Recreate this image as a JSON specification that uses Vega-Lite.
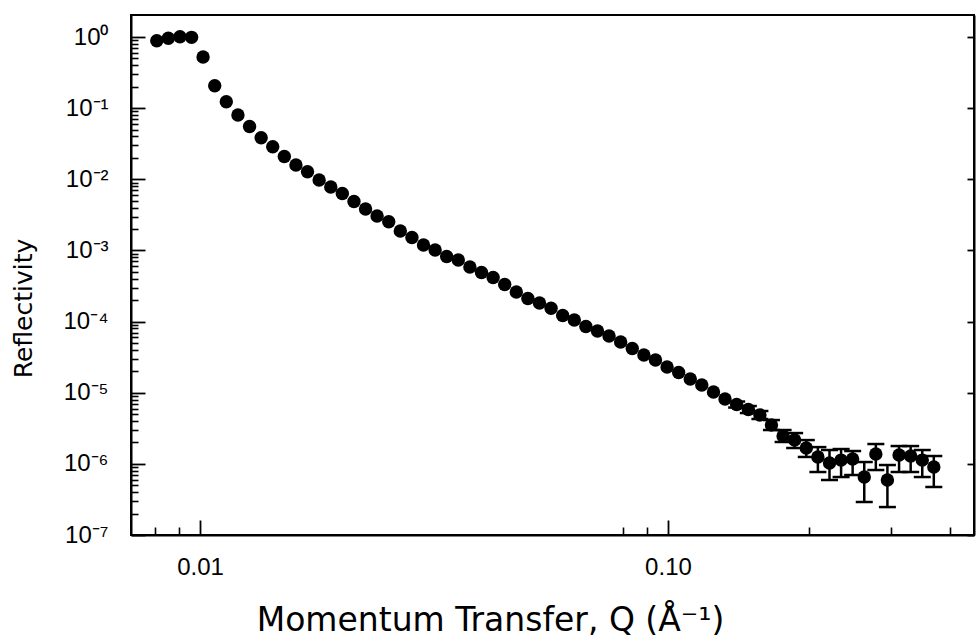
{
  "$schema": "https://vega.github.io/schema/vega-lite/v6.json",
  "width": 843,
  "height": 520,
  "autosize": "none",
  "padding": {"left": 131, "top": 15, "right": 6, "bottom": 102},
  "background": "white",
  "config": {
    "view": {"stroke": "black", "strokeWidth": 2},
    "axis": {"grid": false, "domainColor": "black", "domainWidth": 2, "tickColor": "black", "tickOpacity": 1, "tickWidth": 1.8, "gridColor": "black", "gridOpacity": 1, "gridWidth": 1.8, "labelColor": "black", "titleColor": "black", "labelFont": "Liberation Sans", "titleFont": "DejaVu Sans", "titleFontWeight": "normal"}
  },
  "datasets": {
    "refl": [
      {"q": 0.008083, "r": 0.887},
      {"q": 0.008556, "r": 0.959},
      {"q": 0.009060, "r": 1.01},
      {"q": 0.009592, "r": 0.99},
      {"q": 0.01015, "r": 0.523},
      {"q": 0.01075, "r": 0.2067},
      {"q": 0.01138, "r": 0.1232},
      {"q": 0.01205, "r": 0.0801},
      {"q": 0.01276, "r": 0.0552},
      {"q": 0.01351, "r": 0.0384},
      {"q": 0.01430, "r": 0.0287},
      {"q": 0.01514, "r": 0.0209},
      {"q": 0.01603, "r": 0.01588},
      {"q": 0.01697, "r": 0.01278},
      {"q": 0.01797, "r": 0.00977},
      {"q": 0.01903, "r": 0.00779},
      {"q": 0.02014, "r": 0.00631},
      {"q": 0.02133, "r": 0.00487},
      {"q": 0.02258, "r": 0.00382},
      {"q": 0.02390, "r": 0.00305},
      {"q": 0.02531, "r": 0.002533},
      {"q": 0.02679, "r": 0.001875},
      {"q": 0.02837, "r": 0.001519},
      {"q": 0.03003, "r": 0.001192},
      {"q": 0.03180, "r": 0.001014},
      {"q": 0.03366, "r": 0.000821},
      {"q": 0.03564, "r": 0.000733},
      {"q": 0.03773, "r": 0.000585},
      {"q": 0.03995, "r": 0.000489},
      {"q": 0.04230, "r": 0.000416},
      {"q": 0.04478, "r": 0.000332},
      {"q": 0.04741, "r": 0.00026},
      {"q": 0.05019, "r": 0.000211},
      {"q": 0.05314, "r": 0.0001823},
      {"q": 0.05626, "r": 0.0001536},
      {"q": 0.05957, "r": 0.0001217},
      {"q": 0.06307, "r": 0.0001051},
      {"q": 0.06677, "r": 0.0000852},
      {"q": 0.07070, "r": 0.0000737},
      {"q": 0.07483, "r": 0.0000627},
      {"q": 0.07923, "r": 0.0000516},
      {"q": 0.08389, "r": 0.0000418},
      {"q": 0.08882, "r": 0.0000339},
      {"q": 0.09404, "r": 0.0000288},
      {"q": 0.09956, "r": 0.0000230},
      {"q": 0.1054, "r": 0.00001922},
      {"q": 0.1116, "r": 0.00001558},
      {"q": 0.1181, "r": 0.00001283},
      {"q": 0.1251, "r": 0.00001023},
      {"q": 0.1324, "r": 0.00000815},
      {"q": 0.1402, "r": 0.00000682, "lo": 0.00000619, "hi": 0.00000752},
      {"q": 0.1485, "r": 0.0000058, "lo": 0.00000518, "hi": 0.0000065},
      {"q": 0.1572, "r": 0.00000486, "lo": 0.00000427, "hi": 0.00000553},
      {"q": 0.1664, "r": 0.00000352, "lo": 0.00000299, "hi": 0.00000413},
      {"q": 0.1762, "r": 0.00000246, "lo": 0.00000203, "hi": 0.00000299},
      {"q": 0.1865, "r": 0.00000216, "lo": 0.00000167, "hi": 0.00000271},
      {"q": 0.1975, "r": 0.00000167, "lo": 0.00000125, "hi": 0.00000216},
      {"q": 0.2091, "r": 0.000001248, "lo": 0.000000768, "hi": 0.00000172},
      {"q": 0.2214, "r": 0.000001027, "lo": 0.000000593, "hi": 0.000001565},
      {"q": 0.2344, "r": 0.00000113, "lo": 0.000000653, "hi": 0.000001616},
      {"q": 0.2481, "r": 0.00000117, "lo": 0.000000697, "hi": 0.000001515},
      {"q": 0.2627, "r": 0.000000653, "lo": 0.000000291, "hi": 0.000001061},
      {"q": 0.2781, "r": 0.000001375, "lo": 0.000000819, "hi": 0.0000019},
      {"q": 0.2944, "r": 0.000000593, "lo": 0.000000247, "hi": 0.000000963},
      {"q": 0.3118, "r": 0.000001331, "lo": 0.000000768, "hi": 0.00000178},
      {"q": 0.3301, "r": 0.00000129, "lo": 0.000000768, "hi": 0.00000178},
      {"q": 0.3495, "r": 0.00000113, "lo": 0.000000653, "hi": 0.000001565},
      {"q": 0.3699, "r": 0.000000905, "lo": 0.000000473, "hi": 0.000001289}
    ]
  },
  "data": {"name": "refl"},
  "encoding": {
    "x": {
      "field": "q",
      "type": "quantitative",
      "scale": {"type": "log", "domain": [0.00712, 0.4508], "nice": false},
      "axis": null
    }
  },
  "layer": [
    {
      "mark": {"type": "point", "opacity": 0},
      "encoding": {
        "y": {
          "field": "r",
          "type": "quantitative",
          "scale": {"type": "log", "domain": [1e-7, 2.04], "nice": false},
          "axis": {
            "orient": "right",
            "title": null,
            "values": [1e-7, 1e-6, 1e-5, 1e-4, 0.001, 0.01, 0.1, 1],
            "labels": false,
            "tickSize": -7
          }
        }
      }
    },
    {
      "mark": {"type": "point", "opacity": 0},
      "encoding": {
        "y": {
          "field": "r",
          "type": "quantitative",
          "scale": {"type": "log", "domain": [1e-7, 2.04], "nice": false},
          "axis": {
            "orient": "right",
            "title": null,
            "values": [1e-7, 1e-6, 1e-5, 1e-4, 0.001, 0.01, 0.1, 1],
            "labels": false,
            "ticks": false,
            "domain": false,
            "grid": true,
            "gridColor": "black",
            "gridOpacity": 1,
            "gridWidth": 1.8,
            "gridDash": [14, 829],
            "gridDashOffset": 14
          }
        }
      }
    },
    {
      "mark": {"type": "point", "opacity": 0},
      "encoding": {
        "y": {
          "field": "r",
          "type": "quantitative",
          "scale": {"type": "log", "domain": [1e-7, 2.04], "nice": false},
          "axis": {
            "orient": "right",
            "title": null,
            "values": [2e-7, 3e-7, 4e-7, 5e-7, 6e-7, 7e-7, 8e-7, 9e-7, 2e-6, 3e-6, 4e-6, 5e-6, 6e-6, 7e-6, 8e-6, 9e-6, 2e-5, 3e-5, 4e-5, 5e-5, 6e-5, 7e-5, 8e-5, 9e-5, 2e-4, 3e-4, 4e-4, 5e-4, 6e-4, 7e-4, 8e-4, 9e-4, 0.002, 0.003, 0.004, 0.005, 0.006, 0.007, 0.008, 0.009, 0.02, 0.03, 0.04, 0.05, 0.06, 0.07, 0.08, 0.09, 0.2, 0.3, 0.4, 0.5, 0.6, 0.7, 0.8, 0.9],
            "labels": false,
            "ticks": false,
            "domain": false,
            "grid": true,
            "gridColor": "black",
            "gridOpacity": 1,
            "gridWidth": 1.6,
            "gridDash": [7, 836],
            "gridDashOffset": 7
          }
        }
      }
    },
    {
      "mark": {"type": "point", "opacity": 0},
      "encoding": {
        "y": {
          "field": "r",
          "type": "quantitative",
          "scale": {"type": "log", "domain": [1e-7, 2.04], "nice": false},
          "axis": {
            "orient": "left",
            "title": "Reflectivity",
            "values": [1e-7, 1e-6, 1e-5, 1e-4, 0.001, 0.01, 0.1, 1],
            "labelExpr": "'10' + ['⁰','⁻¹','⁻²','⁻³','⁻⁴','⁻⁵','⁻⁶','⁻⁷'][-round(log(datum.value)/LN10)]",
            "ticks": false,
            "labelPadding": 23,
            "labelFontSize": 24,
            "labelFlush": false,
            "labelOverlap": false,
            "labelBaseline": "middle",
            "titleFontSize": 25,
            "titleAngle": -90,
            "titleX": -108,
            "titleY": 293,
            "titleAlign": "center",
            "titleBaseline": "middle",
            "titleAnchor": null
          }
        }
      }
    },
    {
      "mark": {"type": "point", "opacity": 0},
      "encoding": {
        "x": {
          "field": "q",
          "type": "quantitative",
          "scale": {"type": "log", "domain": [0.00712, 0.4508], "nice": false},
          "axis": {
            "orient": "top",
            "title": null,
            "values": [0.01, 0.1],
            "labels": false,
            "ticks": false,
            "domain": false,
            "grid": true,
            "gridColor": "black",
            "gridOpacity": 1,
            "gridWidth": 1.8,
            "gridDash": [15, 505]
          }
        },
        "y": {"field": "r", "type": "quantitative", "scale": {"type": "log", "domain": [1e-7, 2.04], "nice": false}, "axis": null}
      }
    },
    {
      "mark": {"type": "point", "opacity": 0},
      "encoding": {
        "x": {
          "field": "q",
          "type": "quantitative",
          "scale": {"type": "log", "domain": [0.00712, 0.4508], "nice": false},
          "axis": {
            "orient": "top",
            "title": null,
            "values": [0.008, 0.009, 0.08, 0.09, 0.2, 0.3, 0.4],
            "labels": false,
            "ticks": false,
            "domain": false,
            "grid": true,
            "gridColor": "black",
            "gridOpacity": 1,
            "gridWidth": 1.6,
            "gridDash": [8, 512]
          }
        },
        "y": {"field": "r", "type": "quantitative", "scale": {"type": "log", "domain": [1e-7, 2.04], "nice": false}, "axis": null}
      }
    },
    {
      "mark": {"type": "point", "opacity": 0},
      "encoding": {
        "x": {
          "field": "q",
          "type": "quantitative",
          "scale": {"type": "log", "domain": [0.00712, 0.4508], "nice": false},
          "axis": {
            "orient": "bottom",
            "title": "Momentum Transfer, Q (Å⁻¹)",
            "values": [0.01, 0.1],
            "labelExpr": "datum.value < 0.05 ? '0.01' : '0.10'",
            "ticks": false,
            "labelPadding": 20,
            "labelFontSize": 24,
            "labelFlush": false,
            "labelOverlap": false,
            "titleFontSize": 33,
            "titleX": 359,
            "titleY": 95,
            "titleAlign": "center",
            "titleBaseline": "alphabetic",
            "titleAnchor": null
          }
        },
        "y": {"field": "r", "type": "quantitative", "scale": {"type": "log", "domain": [1e-7, 2.04], "nice": false}, "axis": null}
      }
    },
    {
      "transform": [{"filter": "isValid(datum.lo)"}],
      "mark": {"type": "rule", "color": "black", "strokeWidth": 2.5},
      "encoding": {
        "y": {"field": "lo", "type": "quantitative", "scale": {"type": "log", "domain": [1e-7, 2.04], "nice": false}, "axis": null},
        "y2": {"field": "hi"}
      }
    },
    {
      "transform": [{"filter": "isValid(datum.lo)"}],
      "mark": {"type": "tick", "orient": "horizontal", "color": "black", "size": 17, "thickness": 2.5, "opacity": 1},
      "encoding": {
        "y": {"field": "lo", "type": "quantitative", "scale": {"type": "log", "domain": [1e-7, 2.04], "nice": false}, "axis": null}
      }
    },
    {
      "transform": [{"filter": "isValid(datum.lo)"}],
      "mark": {"type": "tick", "orient": "horizontal", "color": "black", "size": 17, "thickness": 2.5, "opacity": 1},
      "encoding": {
        "y": {"field": "hi", "type": "quantitative", "scale": {"type": "log", "domain": [1e-7, 2.04], "nice": false}, "axis": null}
      }
    },
    {
      "mark": {"type": "point", "filled": true, "color": "black", "size": 180, "opacity": 1, "strokeWidth": 0},
      "encoding": {
        "y": {"field": "r", "type": "quantitative", "scale": {"type": "log", "domain": [1e-7, 2.04], "nice": false}, "axis": null}
      }
    }
  ],
  "resolve": {"axis": {"x": "independent", "y": "independent"}}
}
